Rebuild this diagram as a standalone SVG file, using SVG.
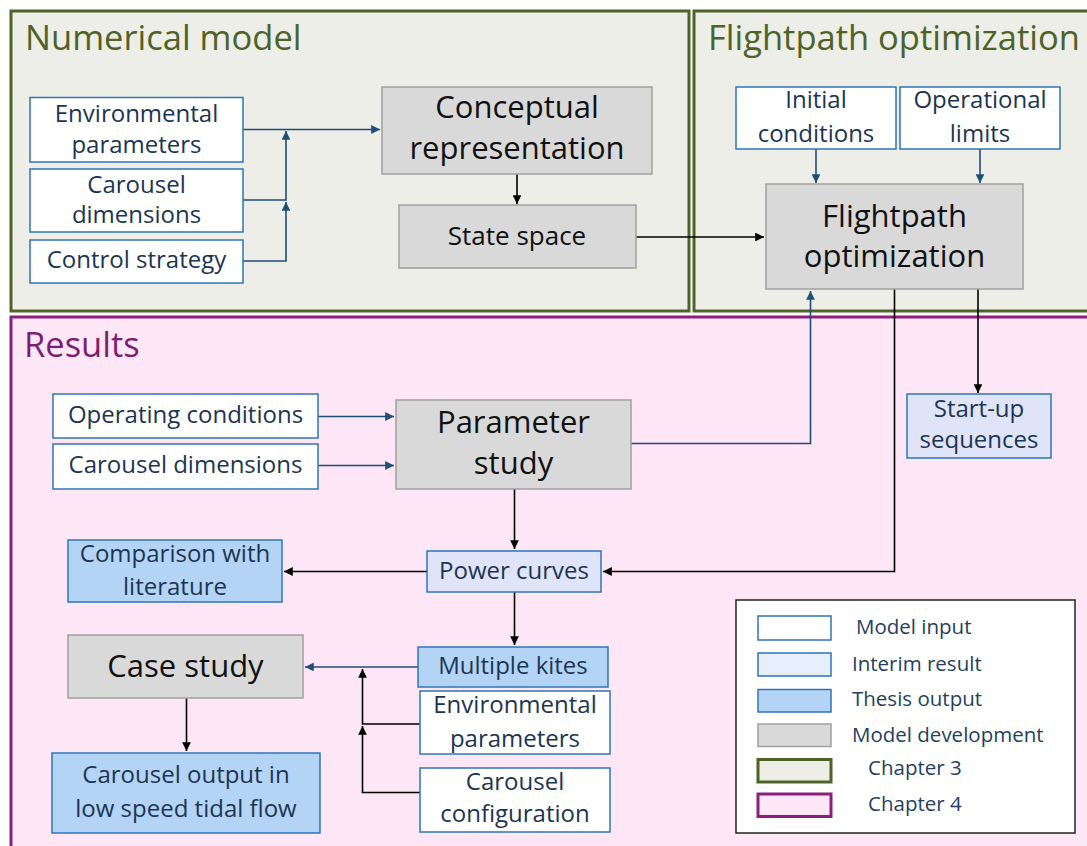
<svg xmlns="http://www.w3.org/2000/svg" width="1087" height="846" viewBox="0 0 1087 846">
<style>
text{font-family:"Open Sans","Noto Sans",sans-serif;}
.title{font-size:34.5px;}
.g{fill:#4f6228;}
.p{fill:#7d1f70;}
.inp{fill:#ffffff;stroke:#2e75b6;stroke-width:1.5;}
.dev{fill:#d9d9d9;stroke:#a0a0a0;stroke-width:1.5;}
.out{fill:#b4d4f6;stroke:#2e75b6;stroke-width:1.5;}
.mid{fill:#dfe4f8;stroke:#2e75b6;stroke-width:1.5;}
.t{font-size:24px;fill:#1c3553;text-anchor:middle;}
.tb{font-size:31px;fill:#111111;text-anchor:middle;}
.tm{font-size:26px;fill:#111111;text-anchor:middle;}
.lg{font-size:20.5px;fill:#243f60;}
.cb{fill:none;stroke:#1f4e79;stroke-width:1.6;}
.ck{fill:none;stroke:#000000;stroke-width:1.6;}
</style>
<defs>
<marker id="ab" viewBox="0 0 10 10" refX="10" refY="5" markerWidth="5.5" markerHeight="5.5" orient="auto" markerUnits="strokeWidth"><path d="M0,0 L10,5 L0,10 z" fill="#1f4e79"/></marker>
<marker id="ak" viewBox="0 0 10 10" refX="10" refY="5" markerWidth="5.5" markerHeight="5.5" orient="auto" markerUnits="strokeWidth"><path d="M0,0 L10,5 L0,10 z" fill="#000000"/></marker>
</defs>
<rect x="0" y="0" width="1087" height="846" fill="#ffffff"/>
<g id="panel-numerical">
<rect x="11" y="11" width="678" height="300" fill="#eceee7" stroke="#4f6228" stroke-width="3"/>
<text class="title g" x="25" y="50">Numerical model</text>
</g>
<g id="panel-flightpath">
<rect x="694" y="11" width="400" height="300" fill="#eceee7" stroke="#4f6228" stroke-width="3"/>
<text class="title g" x="708" y="50">Flightpath optimization</text>
</g>
<g id="panel-results">
<rect x="11" y="317" width="1083" height="535" fill="#fde6f6" stroke="#8b1f7c" stroke-width="3"/>
<text class="title p" x="24" y="357">Results</text>
</g>
<g id="connectors">
<path class="cb" d="M243,129.5 H380" marker-end="url(#ab)"/>
<path class="cb" d="M243,200 H286 V131" marker-end="url(#ab)"/>
<path class="cb" d="M243,261 H286 V202" marker-end="url(#ab)"/>
<path class="ck" d="M517,174 V204" marker-end="url(#ak)"/>
<path class="ck" d="M636,237 H764" marker-end="url(#ak)"/>
<path class="cb" d="M816,149 V183" marker-end="url(#ab)"/>
<path class="cb" d="M980,149 V183" marker-end="url(#ab)"/>
<path class="cb" d="M631,443.5 H810.5 V291" marker-end="url(#ab)"/>
<path class="ck" d="M894.5,289 V571.5 H603" marker-end="url(#ak)"/>
<path class="ck" d="M978,289 V393" marker-end="url(#ak)"/>
<path class="cb" d="M318,416.5 H394" marker-end="url(#ab)"/>
<path class="cb" d="M318,465.5 H394" marker-end="url(#ab)"/>
<path class="ck" d="M514.5,489 V549" marker-end="url(#ak)"/>
<path class="ck" d="M427,571.5 H284" marker-end="url(#ak)"/>
<path class="ck" d="M514.5,592 V645" marker-end="url(#ak)"/>
<path class="cb" d="M418,667 H305" marker-end="url(#ab)"/>
<path class="ck" d="M420,724 H362.5 V669" marker-end="url(#ak)"/>
<path class="ck" d="M420,792.5 H362.5 V726" marker-end="url(#ak)"/>
<path class="ck" d="M186.5,698 V751" marker-end="url(#ak)"/>
</g>
<g id="env-params">
<rect class="inp" x="30" y="97.5" width="213" height="64.5"/>
<text class="t" x="136.5" y="122">Environmental</text>
<text class="t" x="136.5" y="153">parameters</text>
</g>
<g id="carousel-dims">
<rect class="inp" x="30" y="169" width="213" height="63"/>
<text class="t" x="136.5" y="193">Carousel</text>
<text class="t" x="136.5" y="223">dimensions</text>
</g>
<g id="control-strategy">
<rect class="inp" x="30" y="240" width="213" height="43"/>
<text class="t" x="136.5" y="268">Control strategy</text>
</g>
<g id="conceptual">
<rect class="dev" x="382" y="87" width="270" height="87"/>
<text class="tb" x="517" y="118">Conceptual</text>
<text class="tb" x="517" y="159">representation</text>
</g>
<g id="state-space">
<rect class="dev" x="399" y="205" width="237" height="63"/>
<text class="tm" x="517" y="245">State space</text>
</g>
<g id="initial-conditions">
<rect class="inp" x="736" y="87" width="160" height="62"/>
<text class="t" x="816" y="108">Initial</text>
<text class="t" x="816" y="142">conditions</text>
</g>
<g id="operational-limits">
<rect class="inp" x="900" y="87" width="160" height="62"/>
<text class="t" x="980" y="108">Operational</text>
<text class="t" x="980" y="142">limits</text>
</g>
<g id="flightpath">
<rect class="dev" x="766" y="184" width="257" height="105"/>
<text class="tb" x="894.5" y="227">Flightpath</text>
<text class="tb" x="894.5" y="267">optimization</text>
</g>
<g id="operating-conditions">
<rect class="inp" x="53" y="394" width="265" height="44"/>
<text class="t" x="185.5" y="423">Operating conditions</text>
</g>
<g id="carousel-dims-2">
<rect class="inp" x="53" y="444" width="265" height="45"/>
<text class="t" x="185.5" y="473">Carousel dimensions</text>
</g>
<g id="parameter-study">
<rect class="dev" x="396" y="400" width="235" height="89"/>
<text class="tb" x="513.5" y="433">Parameter</text>
<text class="tb" x="513.5" y="474">study</text>
</g>
<g id="startup">
<rect class="mid" x="907" y="394" width="144" height="64"/>
<text class="t" x="979" y="417">Start-up</text>
<text class="t" x="979" y="448">sequences</text>
</g>
<g id="comparison">
<rect class="out" x="68" y="540" width="214" height="62"/>
<text class="t" x="175" y="562">Comparison with</text>
<text class="t" x="175" y="595">literature</text>
</g>
<g id="power-curves">
<rect class="mid" x="427" y="551" width="174" height="41"/>
<text class="t" x="514" y="579">Power curves</text>
</g>
<g id="case-study">
<rect class="dev" x="68" y="635" width="235" height="63"/>
<text class="tb" x="185.5" y="677">Case study</text>
</g>
<g id="multiple-kites">
<rect class="out" x="418" y="647" width="190" height="40"/>
<text class="t" x="513" y="674">Multiple kites</text>
</g>
<g id="env-params-2">
<rect class="inp" x="420" y="691" width="190" height="63"/>
<text class="t" x="515" y="713">Environmental</text>
<text class="t" x="515" y="747">parameters</text>
</g>
<g id="carousel-config">
<rect class="inp" x="420" y="768" width="190" height="64"/>
<text class="t" x="515" y="790">Carousel</text>
<text class="t" x="515" y="822">configuration</text>
</g>
<g id="carousel-output">
<rect class="out" x="52" y="753" width="268" height="80"/>
<text class="t" x="186" y="783">Carousel output in</text>
<text class="t" x="186" y="817">low speed tidal flow</text>
</g>
<g id="legend">
<rect x="736" y="600" width="339" height="233" fill="#ffffff" stroke="#222222" stroke-width="1.5"/>
<rect x="758" y="616" width="73" height="24" fill="#ffffff" stroke="#2e75b6" stroke-width="1.5"/>
<text class="lg" x="856" y="634">Model input</text>
<rect x="758" y="653" width="73" height="23" fill="#e6effb" stroke="#2e75b6" stroke-width="1.5"/>
<text class="lg" x="852" y="671">Interim result</text>
<rect x="758" y="689.5" width="73" height="22.5" fill="#b4d4f6" stroke="#2e75b6" stroke-width="1.5"/>
<text class="lg" x="852" y="706">Thesis output</text>
<rect x="758" y="724" width="73" height="22.5" fill="#d9d9d9" stroke="#a0a0a0" stroke-width="1.5"/>
<text class="lg" x="852" y="742">Model development</text>
<rect x="758" y="759.5" width="73" height="22.5" fill="#eceee7" stroke="#4f6228" stroke-width="3"/>
<text class="lg" x="868" y="775">Chapter 3</text>
<rect x="758" y="794" width="73" height="22.5" fill="#fde6f6" stroke="#8b1f7c" stroke-width="3"/>
<text class="lg" x="868" y="811">Chapter 4</text>
</g>
</svg>
